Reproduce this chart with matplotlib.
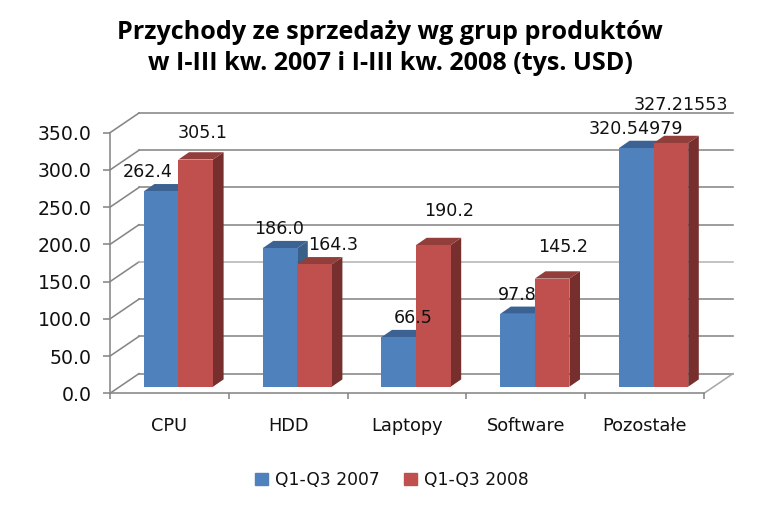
import matplotlib
matplotlib.use("Agg")
import matplotlib.pyplot as plt
from matplotlib.patches import Patch

title = "Przychody ze sprzedaży wg grup produktów\nw I-III kw. 2007 i I-III kw. 2008 (tys. USD)"
categories = ["CPU", "HDD", "Laptopy", "Software", "Pozostałe"]
series_names = ["Q1-Q3 2007", "Q1-Q3 2008"]
values_2007 = [262.4, 186.0, 66.5, 97.8, 320.54979]
values_2008 = [305.1, 164.3, 190.2, 145.2, 327.21553]
labels_2007 = ["262.4", "186.0", "66.5", "97.8", "320.54979"]
labels_2008 = ["305.1", "164.3", "190.2", "145.2", "327.21553"]
y_ticks = [0, 50, 100, 150, 200, 250, 300, 350]

# label offsets from the bar's front top centre, pixels
offs_2007 = [(-13, 19), (-1, 19), (14, 19), (0, 19), (0, 19)]
offs_2008 = [(7, 26.5), (19, 19), (16, 34), (11, 31.6), (10, 38)]

W, H = 778, 509
fig = plt.figure(figsize=(W / 100, H / 100), dpi=100, facecolor="white")
L, R, T, B = 110, 704, 132.7, 393.3
ax = fig.add_axes([L / W, 1 - B / H, (R - L) / W, (B - T) / H])
ax.set_xlim(0, len(categories))
ax.set_ylim(0, 350)
ax.patch.set_visible(False)

ux = (R - L) / len(categories)   # px per category
uy = (B - T) / 350               # px per value unit
def dx(p): return p / ux
def dy(p): return p / uy

GRID = "#868686"
AXC = "#868686"
TXT = "#111111"
FONT = "DejaVu Sans"
LW = 1.15

# Walls and floor
BX, BY = dx(29), dy(19.7)
for v in y_ticks:
    c = "#b4b4b4" if v == 150 else GRID
    ax.plot([0, BX], [v, v + BY], color=GRID, lw=LW, clip_on=False, zorder=1)
    ax.plot([BX, 5 + BX], [v + BY, v + BY], color=c, lw=LW, clip_on=False, zorder=1)
ax.plot([5, 5 + BX], [0, BY], color="#a8a8a8", lw=LW, clip_on=False, zorder=1)

# Bars
shift_x, shift_y = dx(9), dy(6.6)
bw = 34.6 / ux
depth_x, depth_y = dx(10.6), dy(7.3)
colors = [("#4F81BD", "#3C6294", "#396089"), ("#C0504D", "#923E3B", "#772F2E")]
z = 2
for i in range(len(categories)):
    for k, vals in enumerate((values_2007, values_2008)):
        x0 = i + 0.5 + shift_x + (k - 1) * bw
        x1 = x0 + bw
        v = vals[i]
        y0, y1 = shift_y, v + shift_y
        front, top, side = colors[k]
        ax.fill([x1, x1 + depth_x, x1 + depth_x, x1],
                [y0, y0 + depth_y, y1 + depth_y, y1],
                color=side, lw=0, clip_on=False, zorder=z)
        ax.fill([x0, x0 + depth_x, x1 + depth_x, x1],
                [y1, y1 + depth_y, y1 + depth_y, y1],
                color=top, lw=0, clip_on=False, zorder=z)
        ax.bar(x0, v, width=bw, bottom=y0, align="edge", color=front,
               linewidth=0, clip_on=False, zorder=z + 0.1)
        z += 1

# Data labels
for i in range(len(categories)):
    for k, (vals, labs, offs) in enumerate(((values_2007, labels_2007, offs_2007),
                                             (values_2008, labels_2008, offs_2008))):
        xc = i + 0.5 + shift_x + (k - 0.5) * bw
        ax.annotate(labs[i], xy=(xc, vals[i] + shift_y),
                    xytext=(offs[i][0] * 0.72, offs[i][1] * 0.72),
                    textcoords="offset points", ha="center", va="center",
                    fontsize=12.6, color=TXT, family=FONT, annotation_clip=False, zorder=50)

# Axes
for s in ("top", "right"):
    ax.spines[s].set_visible(False)
for s in ("left", "bottom"):
    ax.spines[s].set_color(AXC)
    ax.spines[s].set_linewidth(LW)
    ax.spines[s].set_zorder(1.5)
ax.set_yticks(y_ticks)
ax.set_yticklabels([f"{v:.1f}" for v in y_ticks], fontsize=13.6, color=TXT, family=FONT)
ax.tick_params(axis="y", length=5, width=LW, color=AXC, pad=8)
ax.set_xticks(range(len(categories) + 1))
ax.set_xticklabels([])
ax.tick_params(axis="x", which="major", length=4.5, width=LW, color=AXC)
ax.set_xticks([i + 0.5 for i in range(len(categories))], minor=True)
ax.set_xticklabels(categories, minor=True, fontsize=12.8, color=TXT, family=FONT)
ax.tick_params(axis="x", which="minor", length=0, pad=17)

# Title
fig.text(390 / W, 1 - 48 / H, title, ha="center", va="center", fontsize=18.1,
         fontweight="bold", family="Open Sans", color="black", linespacing=1.3)

# Legend
handles = [Patch(color="#4F81BD", label=series_names[0]), Patch(color="#C0504D", label=series_names[1])]
fig.legend(handles=handles, loc="center", bbox_to_anchor=(392 / W, 1 - 480 / H), ncol=2,
           frameon=False, handlelength=0.72, handleheight=0.72, handletextpad=0.42,
           columnspacing=1.45, prop={"family": FONT, "size": 12.3}, labelcolor=TXT)

fig.savefig("out.png", dpi=100)
